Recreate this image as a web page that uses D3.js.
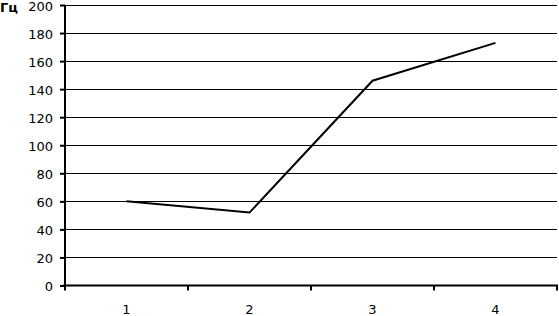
<!DOCTYPE html>
<html lang="ru">
  <head>
    <meta charset="UTF-8" />
    <script src="https://d3js.org/d3.v7.min.js"></script>
    <title>Гц</title>
    <style>
      body { margin: 0; background: #fff; }
      svg { display: block; font-family: "DejaVu Sans", Verdana, sans-serif; }
    </style>
  </head>
  <body>
    <svg width="559" height="316"></svg>
    <script>
      const categories = ["1", "2", "3", "4"];
      const values = [60, 52, 146, 173];
      const yTicks = [0, 20, 40, 60, 80, 100, 120, 140, 160, 180, 200];
      const unitLabel = "Гц";

      const svg = d3.select("svg");
      const plotLeft = 65, plotRight = 557, plotTop = 5, plotBottom = 285.5;

      const x = d3.scaleBand().domain(categories).range([plotLeft, plotRight]);
      const y = d3.scaleLinear().domain([0, 200]).range([plotBottom, plotTop]);

      // horizontal gridlines
      svg.append("g")
        .selectAll("line")
        .data(yTicks.filter((d) => d > 0))
        .join("line")
        .attr("x1", plotLeft)
        .attr("x2", plotRight)
        .attr("y1", (d) => Math.round(y(d)) + 0.5)
        .attr("y2", (d) => Math.round(y(d)) + 0.5)
        .attr("stroke", "#000")
        .attr("stroke-width", 1);

      // y axis
      const yAxis = svg.append("g")
        .attr("transform", `translate(${plotLeft},0)`)
        .call(d3.axisLeft(y).tickValues(yTicks).tickSize(5).tickPadding(7));
      yAxis.select(".domain").attr("stroke-width", 2).attr("d", `M0,${plotTop}V${plotBottom}`);
      yAxis.selectAll(".tick line").attr("stroke-width", 2);
      yAxis.selectAll(".tick text").attr("font-size", 13).attr("fill", "#000")
        .attr("dy", "0.42em")
        .attr("font-family", "DejaVu Sans, Verdana, sans-serif");

      // x axis
      const xAxis = svg.append("g")
        .attr("transform", `translate(0,${plotBottom})`)
        .call(d3.axisBottom(x).tickSize(0).tickPadding(19));
      xAxis.select(".domain").attr("stroke-width", 2).attr("d", `M${plotLeft - 2},0H${plotRight + 1}`);
      xAxis.selectAll(".tick text").attr("font-size", 13).attr("fill", "#000")
        .attr("font-family", "DejaVu Sans, Verdana, sans-serif");
      xAxis.selectAll("line.sep")
        .data(categories.map((c) => x(c)).concat([plotRight]))
        .join("line")
        .attr("class", "sep")
        .attr("x1", (d) => d)
        .attr("x2", (d) => d)
        .attr("y1", 0)
        .attr("y2", 5)
        .attr("stroke", "#000")
        .attr("stroke-width", 2);

      // data line
      const line = d3.line()
        .x((d, i) => x(categories[i]) + x.bandwidth() / 2)
        .y((d) => y(d));
      svg.append("path")
        .datum(values)
        .attr("d", line)
        .attr("fill", "none")
        .attr("stroke", "#000")
        .attr("stroke-width", 2);

      // unit label
      svg.append("text")
        .attr("x", 0)
        .attr("y", 12)
        .attr("font-size", 13)
        .attr("font-weight", "bold")
        .text(unitLabel);
    </script>
  </body>
</html>
